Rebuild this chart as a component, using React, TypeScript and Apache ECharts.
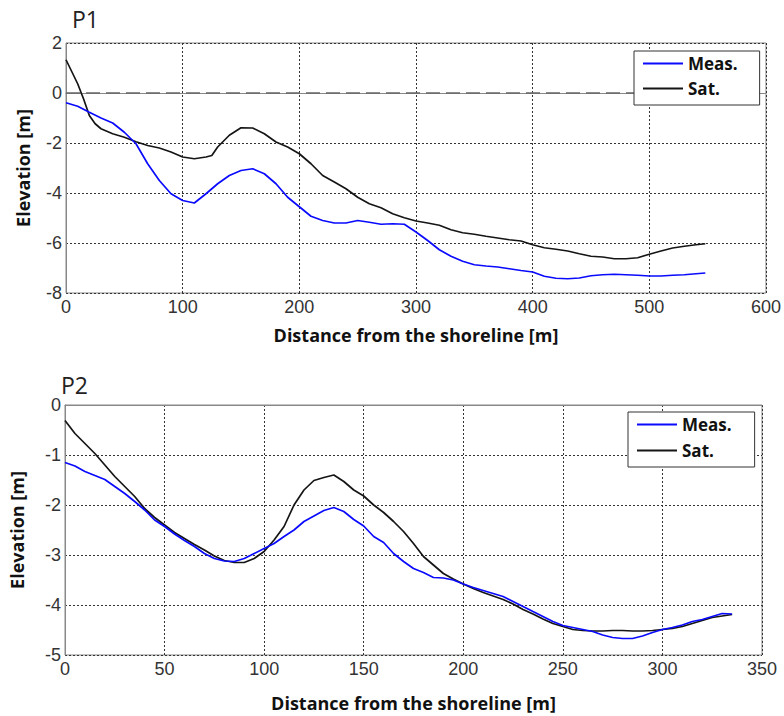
import React, { useEffect, useRef } from "react";
import * as echarts from "echarts";

// ---- P1 data ----
const p1MeasX = [0, 10, 20, 30, 40, 50, 60, 70, 80, 90, 100, 110, 120, 130, 140, 150, 160, 170, 180, 190, 200, 210, 220, 230, 240, 250, 260, 270, 280, 290, 300, 310, 320, 330, 340, 350, 360, 370, 380, 390, 400, 410, 420, 430, 440, 450, 460, 470, 480, 490, 500, 510, 520, 530, 540, 548];
const p1Meas = [-0.39, -0.53, -0.77, -1.0, -1.2, -1.57, -2.03, -2.83, -3.5, -4.03, -4.3, -4.4, -4.03, -3.63, -3.3, -3.1, -3.03, -3.23, -3.63, -4.17, -4.55, -4.93, -5.1, -5.2, -5.2, -5.1, -5.17, -5.25, -5.23, -5.25, -5.56, -5.9, -6.27, -6.53, -6.73, -6.87, -6.92, -6.96, -7.03, -7.1, -7.16, -7.33, -7.41, -7.43, -7.4, -7.31, -7.27, -7.25, -7.27, -7.29, -7.32, -7.32, -7.29, -7.27, -7.23, -7.2];
const p1SatX = [0, 5, 10, 15, 20, 25, 30, 40, 50, 60, 70, 80, 90, 100, 110, 120, 125, 130, 140, 150, 160, 170, 180, 190, 200, 210, 220, 230, 240, 250, 260, 270, 280, 290, 300, 310, 320, 330, 340, 350, 360, 370, 380, 390, 400, 410, 420, 430, 440, 450, 460, 470, 480, 490, 500, 510, 520, 530, 540, 548];
const p1Sat = [1.33, 0.85, 0.37, -0.23, -0.9, -1.23, -1.43, -1.63, -1.77, -1.95, -2.1, -2.2, -2.36, -2.56, -2.63, -2.56, -2.5, -2.16, -1.69, -1.39, -1.4, -1.63, -1.96, -2.16, -2.43, -2.83, -3.3, -3.56, -3.83, -4.17, -4.43, -4.59, -4.83, -4.99, -5.12, -5.2, -5.29, -5.47, -5.59, -5.65, -5.73, -5.8, -5.87, -5.92, -6.07, -6.19, -6.25, -6.32, -6.43, -6.53, -6.56, -6.63, -6.63, -6.59, -6.45, -6.32, -6.2, -6.13, -6.07, -6.03];

// ---- P2 data ----
const p2X = [0, 5, 10, 15, 20, 25, 30, 35, 40, 45, 50, 55, 60, 65, 70, 75, 80, 85, 90, 95, 100, 105, 110, 115, 120, 125, 130, 135, 140, 145, 150, 155, 160, 165, 170, 175, 180, 185, 190, 195, 200, 205, 210, 215, 220, 225, 230, 235, 240, 245, 250, 255, 260, 265, 270, 275, 280, 285, 290, 295, 300, 305, 310, 315, 320, 325, 330, 335];
const p2Meas = [-1.15, -1.22, -1.33, -1.41, -1.49, -1.63, -1.77, -1.93, -2.1, -2.3, -2.43, -2.58, -2.71, -2.83, -2.97, -3.07, -3.12, -3.13, -3.07, -2.97, -2.87, -2.77, -2.63, -2.5, -2.33, -2.22, -2.11, -2.05, -2.13, -2.29, -2.42, -2.63, -2.75, -2.97, -3.13, -3.27, -3.35, -3.45, -3.46, -3.5, -3.58, -3.65, -3.71, -3.77, -3.83, -3.93, -4.03, -4.13, -4.23, -4.33, -4.41, -4.45, -4.49, -4.53, -4.6, -4.65, -4.67, -4.67, -4.62, -4.55, -4.49, -4.45, -4.4, -4.33, -4.29, -4.23, -4.17, -4.18];
const p2Sat = [-0.31, -0.57, -0.77, -0.97, -1.2, -1.43, -1.63, -1.83, -2.07, -2.25, -2.4, -2.55, -2.67, -2.79, -2.9, -3.02, -3.11, -3.15, -3.15, -3.07, -2.93, -2.7, -2.43, -2.0, -1.7, -1.51, -1.45, -1.4, -1.53, -1.7, -1.82, -2.0, -2.15, -2.33, -2.53, -2.77, -3.03, -3.2, -3.37, -3.48, -3.58, -3.67, -3.75, -3.82, -3.89, -3.98, -4.09, -4.18, -4.28, -4.37, -4.43, -4.49, -4.51, -4.52, -4.52, -4.51, -4.51, -4.52, -4.52, -4.51, -4.49, -4.47, -4.43, -4.37, -4.31, -4.25, -4.22, -4.19];

const seriesNames = ["Meas.", "Sat."];
const titles = ["P1", "P2"];
const xAxisName = "Distance from the shoreline [m]";
const yAxisName = "Elevation [m]";

const zip = (xs: number[], ys: number[]) => xs.map((x, i) => [x, ys[i]]);

const BLUE = "#0a0aff";
const BLACK = "#151515";
const tickFont = "'Liberation Sans', Arial, sans-serif";
const nameFont = "'Open Sans', sans-serif";

export default function App() {
  const ref = useRef<HTMLDivElement>(null);
  useEffect(() => {
    document.body.style.margin = "0";
    const chart = echarts.init(ref.current!, null, { renderer: "svg" });
    const splitLine = { show: true, lineStyle: { color: "#333", type: [2, 2] as any, width: 1 } };
    const axisLabel = { color: "#333", fontSize: 18, fontFamily: tickFont };
    const nameStyle = { color: "#111", fontSize: 18, fontWeight: "bold", fontFamily: nameFont };
    const xBase = (gi: number, max: number, interval: number, gap: number) => ({
      type: "value",
      gridIndex: gi,
      min: 0,
      max,
      interval,
      axisLine: { show: true, lineStyle: { color: "#888", width: 1 } },
      axisTick: { show: false },
      axisLabel: { ...axisLabel, margin: 5 },
      splitLine,
      name: xAxisName,
      nameLocation: "middle",
      nameGap: gap,
      nameTextStyle: nameStyle,
    });
    const yBase = (gi: number, min: number, max: number, interval: number, gap: number) => ({
      type: "value",
      gridIndex: gi,
      min,
      max,
      interval,
      axisLine: { show: true, lineStyle: { color: "#888", width: 1 } },
      axisTick: { show: false },
      axisLabel: { ...axisLabel, margin: 4 },
      splitLine,
      name: yAxisName,
      nameLocation: "middle",
      nameGap: gap,
      nameTextStyle: nameStyle,
    });
    const legendBase = {
      orient: "vertical",
      data: seriesNames,
      icon: "rect",
      itemWidth: 40,
      itemHeight: 2,
      itemGap: 8,
      borderColor: "#333",
      borderWidth: 1,
      borderRadius: 0,
      backgroundColor: "#fff",
      padding: [4, 22, 8, 9],
      z: 20,
      textStyle: { color: "#111", fontSize: 17, fontWeight: "bold", fontFamily: nameFont, lineHeight: 17 },
      selectedMode: false,
    };
    chart.setOption({
      animation: false,
      backgroundColor: "#fff",
      title: [
        { text: titles[0], left: 72, top: 7, padding: 0, textStyle: { fontSize: 23, fontWeight: "normal", color: "#222", fontFamily: nameFont } },
        { text: titles[1], left: 61, top: 373, padding: 0, textStyle: { fontSize: 23, fontWeight: "normal", color: "#222", fontFamily: nameFont } },
      ],
      legend: [
        { ...legendBase, left: 634, top: 51 },
        { ...legendBase, left: 628, top: 412, itemGap: 9, padding: [4, 23, 8, 9] },
      ],
      grid: [
        { left: 66, top: 43, width: 700, height: 250, show: true, borderColor: "#888", borderWidth: 1, backgroundColor: "transparent" },
        { left: 58, top: 405, width: 704, height: 250, show: true, borderColor: "#888", borderWidth: 1, backgroundColor: "transparent" },
      ],
      xAxis: [xBase(0, 600, 100, 33), xBase(1, 350, 50, 39)],
      yAxis: [yBase(0, -8, 2, 2, 34), yBase(1, -5, 0, 1, 39)],
      series: [
        {
          name: seriesNames[0], type: "line", xAxisIndex: 0, yAxisIndex: 0, symbol: "none",
          data: zip(p1MeasX, p1Meas), lineStyle: { color: BLUE, width: 1.7 }, itemStyle: { color: BLUE },
          markLine: {
            silent: true, symbol: "none", label: { show: false },
            lineStyle: { color: "#666", type: [14, 6] as any, width: 1.5 },
            data: [{ yAxis: 0 }],
          },
          z: 3,
        },
        {
          name: seriesNames[1], type: "line", xAxisIndex: 0, yAxisIndex: 0, symbol: "none",
          data: zip(p1SatX, p1Sat), lineStyle: { color: BLACK, width: 1.7 }, itemStyle: { color: BLACK }, z: 2,
        },
        {
          name: seriesNames[0], type: "line", xAxisIndex: 1, yAxisIndex: 1, symbol: "none",
          data: zip(p2X, p2Meas), lineStyle: { color: BLUE, width: 1.7 }, itemStyle: { color: BLUE }, z: 3,
        },
        {
          name: seriesNames[1], type: "line", xAxisIndex: 1, yAxisIndex: 1, symbol: "none",
          data: zip(p2X, p2Sat), lineStyle: { color: BLACK, width: 1.7 }, itemStyle: { color: BLACK }, z: 2,
        },
      ],
    });
    return () => chart.dispose();
  }, []);
  return <div ref={ref} style={{ position: "fixed", left: 0, top: 0, width: 784, height: 716 }} />;
}
